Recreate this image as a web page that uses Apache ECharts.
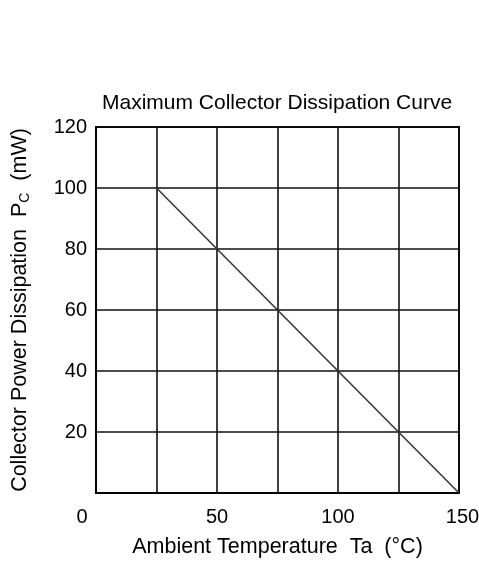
<!DOCTYPE html>
<html>
<head>
<meta charset="utf-8">
<script src="https://cdn.jsdelivr.net/npm/echarts@6/dist/echarts.min.js"></script>
<style>
  html, body { margin: 0; padding: 0; background: #fff; }
  #chart { width: 479px; height: 561px; }
</style>
</head>
<body>
<div id="chart"></div>
<script>
// Power derating: ambient temperature (°C) vs collector dissipation (mW)
const temperature = [25, 150];
const dissipation = [100, 0];
const xTicks = [0, 50, 100, 150];
const yTicks = [20, 40, 60, 80, 100, 120];

const FONT = '"Liberation Sans", Arial, sans-serif';
const chart = echarts.init(document.getElementById('chart'), null, { renderer: 'canvas' });

chart.setOption({
  animation: false,
  backgroundColor: '#fff',
  title: {
    text: 'Maximum Collector Dissipation Curve',
    left: 97,
    top: 88,
    textStyle: { fontFamily: FONT, fontSize: 21, fontWeight: 'normal', color: '#000' }
  },
  grid: {
    left: 96, right: 20, top: 127, bottom: 68,
    outerBoundsMode: 'none',
    show: true, borderColor: '#000', borderWidth: 2
  },
  xAxis: {
    type: 'value', min: 0, max: 150, interval: 25,
    name: 'Ambient Temperature  Ta  (°C)',
    nameLocation: 'middle', nameGap: 43,
    nameTextStyle: { fontFamily: FONT, fontSize: 21.5, color: '#000' },
    axisLine: { show: true, lineStyle: { color: '#000', width: 2 } },
    axisTick: { show: false },
    splitLine: { show: true, lineStyle: { color: '#111', width: 1.6 } },
    axisLabel: {
      fontFamily: FONT, fontSize: 20, color: '#000', margin: 14,
      formatter: function (v) {
        if (xTicks.indexOf(v) < 0) return '';
        if (v === 0) return '{o|0}';
        if (v === 150) return '{e|150}';
        return String(v);
      },
      rich: {
        o: { fontFamily: FONT, fontSize: 20, color: '#000', padding: [0, 28, 0, 0] },
        e: { fontFamily: FONT, fontSize: 20, color: '#000', padding: [0, 0, 0, 7] }
      }
    }
  },
  yAxis: {
    type: 'value', min: 0, max: 120, interval: 20,
    name: 'Collector Power Dissipation  P{sub|C}  (mW)',
    nameLocation: 'middle', nameGap: 64, nameRotate: 90,
    nameTextStyle: {
      fontFamily: FONT, fontSize: 21.5, color: '#000',
      rich: { sub: { fontFamily: FONT, fontSize: 14, color: '#000', verticalAlign: 'bottom', padding: [10, 0, 0, 0] } }
    },
    axisLine: { show: true, lineStyle: { color: '#000', width: 2 } },
    axisTick: { show: false },
    splitLine: { show: true, lineStyle: { color: '#111', width: 1.6 } },
    axisLabel: {
      fontFamily: FONT, fontSize: 20, color: '#000', margin: 9,
      formatter: function (v) { return yTicks.indexOf(v) < 0 ? '' : String(v); }
    }
  },
  series: [{
    type: 'line',
    data: temperature.map((t, i) => [t, dissipation[i]]),
    symbol: 'none',
    lineStyle: { color: '#333', width: 1.5 }
  }]
});
</script>
</body>
</html>
